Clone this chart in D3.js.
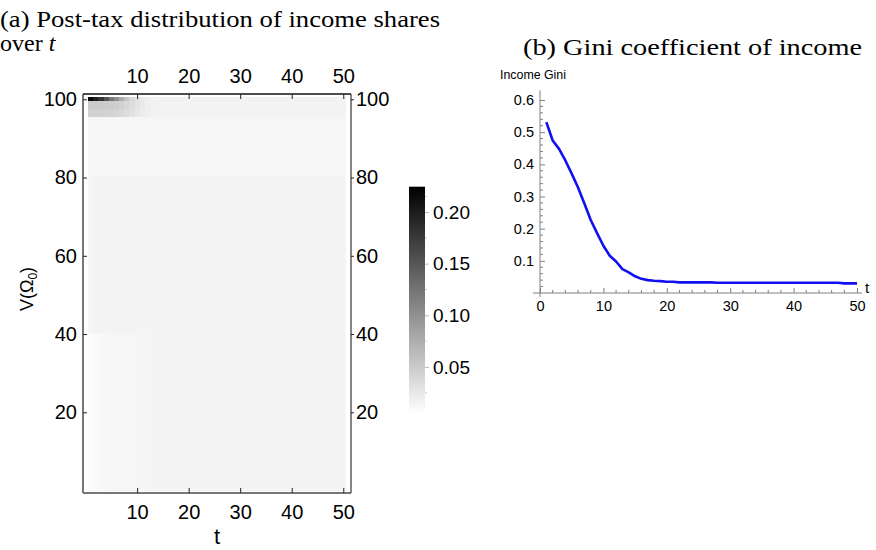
<!DOCTYPE html>
<html><head><meta charset="utf-8">
<script src="https://cdn.jsdelivr.net/npm/d3@7"></script>
<style>body{margin:0;background:#fff}svg{display:block}</style>
</head><body><svg id="c" width="876" height="550"></svg>
<script>
// ---------- DATA ----------
const periods = d3.range(1, 51);
// income share of the top percentile (row 100) by period
const share100 = [0.215,0.198,0.180,0.151,0.121,0.101,0.077,0.055,0.038,0.029,0.022,0.019,0.017,0.016,0.016,0.016,0.016,0.016,0.016,0.016,
  0.016,0.016,0.016,0.016,0.016,0.016,0.016,0.016,0.016,0.016,0.016,0.016,0.016,0.016,0.016,0.016,0.016,0.016,0.016,0.016,
  0.016,0.016,0.016,0.016,0.016,0.016,0.016,0.016,0.016,0.016];
// rows 98-99
const share98to99 = [0.051,0.051,0.050,0.050,0.049,0.047,0.044,0.039,0.034,0.028,0.023,0.019,0.017,0.016,0.015,0.015,0.015,0.015,0.015,0.015,
  0.015,0.015,0.015,0.015,0.015,0.015,0.015,0.015,0.015,0.015,0.015,0.015,0.015,0.015,0.015,0.015,0.015,0.015,0.015,0.015,
  0.015,0.015,0.015,0.015,0.015,0.015,0.015,0.015,0.015,0.015];
// rows 96-97
const share96to97 = [0.045,0.045,0.045,0.044,0.044,0.042,0.039,0.035,0.031,0.026,0.021,0.018,0.016,0.015,0.015,0.015,0.015,0.015,0.015,0.015,
  0.015,0.015,0.015,0.015,0.015,0.015,0.015,0.015,0.015,0.015,0.015,0.015,0.015,0.015,0.015,0.015,0.015,0.015,0.015,0.015,
  0.015,0.015,0.015,0.015,0.015,0.015,0.015,0.015,0.015,0.015];
// rows 81-95
const shareUpper = [0.013,0.013,0.013,0.013,0.013,0.013,0.013,0.013,0.013,0.013,0.013,0.013,0.013,0.013,0.013,0.013,0.013,0.013,0.013,0.013,
  0.013,0.013,0.013,0.013,0.013,0.013,0.013,0.013,0.013,0.013,0.013,0.013,0.013,0.013,0.013,0.013,0.013,0.013,0.013,0.013,
  0.013,0.013,0.013,0.013,0.013,0.013,0.013,0.013,0.013,0.013];
// rows 41-80
const shareMiddle = [0.0135,0.0153,0.0153,0.0153,0.0153,0.0153,0.0153,0.0151,0.015,0.0148,0.0147,0.0146,0.0145,0.0145,0.0145,0.0145,0.0145,0.0145,0.0145,0.0145,
  0.0145,0.0145,0.0145,0.0145,0.0145,0.0145,0.0145,0.0145,0.0145,0.0145,0.0145,0.0145,0.0145,0.0145,0.0145,0.0145,0.0145,0.0145,0.0145,0.0145,
  0.0145,0.0145,0.0145,0.0145,0.0145,0.0145,0.0145,0.0145,0.0145,0.0145];
// rows 1-40
const shareLower = [0.0075,0.009,0.011,0.012,0.0125,0.0125,0.0125,0.0125,0.0125,0.0135,0.014,0.014,0.0145,0.0145,0.0145,0.0145,0.0145,0.0145,0.0145,0.0145,
  0.0145,0.0145,0.0145,0.0145,0.0145,0.0145,0.0145,0.0145,0.0145,0.0145,0.0145,0.0145,0.0145,0.0145,0.0145,0.0145,0.0145,0.0145,0.0145,0.0145,
  0.0145,0.0145,0.0145,0.0145,0.0145,0.0145,0.0145,0.0145,0.0145,0.0145];
// Gini coefficient of income by period
const giniValues = [0.531,0.474,0.448,0.412,0.371,0.328,0.278,0.227,0.186,0.147,0.116,0.098,0.074,0.064,0.052,0.044,0.040,0.038,0.037,0.035,
  0.035,0.033,0.033,0.033,0.033,0.033,0.033,0.032,0.032,0.032,0.032,0.032,0.032,0.032,0.032,0.032,0.032,0.032,0.032,0.032,
  0.032,0.032,0.032,0.032,0.032,0.032,0.032,0.030,0.030,0.030];
const heatXTicks = [10,20,30,40,50];
const heatYTicks = [20,40,60,80,100];
const barTicks = [0.05,0.10,0.15,0.20];
const barMinorTicks = [0.025,0.075,0.125,0.175,0.215];
const giniXTicks = [0,10,20,30,40,50];
const giniYTicks = [0.1,0.2,0.3,0.4,0.5,0.6];
const colorRange = [0.005, 0.2245];

const bands = [
  {from:1, to:40, vals:shareLower},
  {from:41, to:80, vals:shareMiddle},
  {from:81, to:95, vals:shareUpper},
  {from:96, to:97, vals:share96to97},
  {from:98, to:99, vals:share98to99},
  {from:100, to:100, vals:share100}
];

// ---------- DRAW ----------
const svg = d3.select("#c");
const SANS = "Liberation Sans, Arial, sans-serif";
const SERIF = "Liberation Serif, Times New Roman, serif";

// titles
svg.append("text").attr("x",0).attr("y",27).attr("font-family",SERIF).attr("font-size",24)
  .attr("textLength",440).attr("lengthAdjust","spacingAndGlyphs").text("(a) Post-tax distribution of income shares");
const t2 = svg.append("text").attr("x",0).attr("y",51).attr("font-family",SERIF).attr("font-size",24);
t2.append("tspan").text("over ");
t2.append("tspan").attr("font-style","italic").text("t");
svg.append("text").attr("x",523).attr("y",55).attr("font-family",SERIF).attr("font-size",24)
  .attr("textLength",339).attr("lengthAdjust","spacingAndGlyphs").text("(b) Gini coefficient of income");

// heatmap
const L=83, R=351, T=94, B=493;
const x = d3.scaleLinear().domain([-0.5, 51.5]).range([L, R]);
const y = d3.scaleLinear().domain([20, 100]).range([412.3, 99.3]);
const yCell = d3.scaleLinear().domain([0, 100]).range([y(0), y(100.7)]);
const color = d3.scaleLinear().domain(colorRange).range(["#ffffff","#000000"]).clamp(true);

const cells = [];
bands.forEach(b => periods.forEach((t,i) => cells.push({t, from:b.from, to:b.to, v:b.vals[i]})));
svg.append("g").attr("shape-rendering","crispEdges").selectAll("rect").data(cells).join("rect")
  .attr("x", d => x(d.t-0.5)).attr("width", d => x(d.t+0.5)-x(d.t-0.5)+0.5)
  .attr("y", d => yCell(d.to)).attr("height", d => yCell(d.from-1)-yCell(d.to)+0.5)
  .attr("fill", d => color(d.v));

// frame
svg.append("line").attr("x1",L).attr("x2",L).attr("y1",T).attr("y2",B).attr("stroke","#777").attr("stroke-width",2);
svg.append("line").attr("x1",L).attr("x2",R).attr("y1",B).attr("y2",B).attr("stroke","#777").attr("stroke-width",2);
svg.append("line").attr("x1",L).attr("x2",R).attr("y1",T).attr("y2",T).attr("stroke","#111").attr("stroke-width",1.5);
svg.append("line").attr("x1",R).attr("x2",R).attr("y1",T).attr("y2",B).attr("stroke","#333").attr("stroke-width",1.2);

// heatmap ticks via axes
const tickFont = g => g.selectAll("text").attr("font-family",SANS).attr("font-size",20).attr("fill","#000");
const gTop = svg.append("g").attr("transform",`translate(0,${T})`)
  .call(d3.axisTop(x).tickValues(heatXTicks).tickSizeInner(-5).tickSizeOuter(0).tickPadding(11));
const gBot = svg.append("g").attr("transform",`translate(0,${B})`)
  .call(d3.axisBottom(x).tickValues(heatXTicks).tickSizeInner(-5).tickSizeOuter(0).tickPadding(12));
const gLeft = svg.append("g").attr("transform",`translate(${L},0)`)
  .call(d3.axisLeft(y).tickValues(heatYTicks).tickSizeInner(-4).tickSizeOuter(0).tickPadding(6));
const gRight = svg.append("g").attr("transform",`translate(${R},0)`)
  .call(d3.axisRight(y).tickValues(heatYTicks).tickSizeInner(3).tickSizeOuter(0).tickPadding(2));
[gTop,gBot,gLeft,gRight].forEach(g => { g.select(".domain").remove(); g.selectAll("line").attr("stroke","#222"); tickFont(g); });

// axis titles
svg.append("text").attr("x",217).attr("y",544).attr("text-anchor","middle").attr("font-family",SANS).attr("font-size",22).text("t");
const yl = svg.append("text").attr("transform","translate(33,289) rotate(-90)").attr("text-anchor","middle")
  .attr("font-family",SANS).attr("font-size",18);
yl.append("tspan").text("V(Ω");
yl.append("tspan").attr("font-size",12).attr("dy",4).text("0");
yl.append("tspan").attr("dy",-4).text(")");

// colorbar
const cbX = 409, cbW = 16;
const cbY = d3.scaleLinear().domain([0.05,0.20]).range([367,212]);
const defs = svg.append("defs");
const grad = defs.append("linearGradient").attr("id","cbg").attr("x1",0).attr("x2",0).attr("y1",1).attr("y2",0);
grad.append("stop").attr("offset","0%").attr("stop-color",color(colorRange[0]));
grad.append("stop").attr("offset","100%").attr("stop-color",color(colorRange[1]));
svg.append("rect").attr("x",cbX).attr("y",cbY(colorRange[1])).attr("width",cbW)
  .attr("height",cbY(colorRange[0])-cbY(colorRange[1])).attr("fill","url(#cbg)");
const gCb = svg.append("g").attr("transform",`translate(${cbX+cbW},0)`)
  .call(d3.axisRight(cbY).tickValues(barTicks).tickFormat(d3.format(".2f")).tickSizeInner(4).tickSizeOuter(0).tickPadding(4));
gCb.select(".domain").remove(); gCb.selectAll("line").attr("stroke","#bbb"); gCb.selectAll("text").attr("font-family",SANS).attr("font-size",19).attr("fill","#000");
svg.append("g").selectAll("line").data(barMinorTicks).join("line")
  .attr("x1",cbX+cbW).attr("x2",cbX+cbW+2).attr("y1",d=>cbY(d)).attr("y2",d=>cbY(d)).attr("stroke","#ccc");

// ---------- Gini chart ----------
const gx = d3.scaleLinear().domain([0,50]).range([540,857]);
const gy = d3.scaleLinear().domain([0,0.6]).range([293,100]);
const axCol = "#808080";
svg.append("line").attr("x1",533).attr("x2",862).attr("y1",gy(0)).attr("y2",gy(0)).attr("stroke",axCol);
svg.append("line").attr("x1",gx(0)).attr("x2",gx(0)).attr("y1",297).attr("y2",gy(0.63)).attr("stroke",axCol);
const gxA = svg.append("g").attr("transform",`translate(0,${gy(0)})`)
  .call(d3.axisBottom(gx).tickValues(giniXTicks).tickSizeInner(-5).tickSizeOuter(0).tickPadding(8));
svg.append("g").selectAll("line").data(d3.range(2,50,2).filter(v=>v%10)).join("line")
  .attr("x1",d=>gx(d)).attr("x2",d=>gx(d)).attr("y1",gy(0)).attr("y2",gy(0)-3).attr("stroke",axCol);
const gyA = svg.append("g").attr("transform",`translate(${gx(0)},0)`)
  .call(d3.axisLeft(gy).tickValues(giniYTicks).tickFormat(d3.format(".1f")).tickSizeInner(-5).tickSizeOuter(0).tickPadding(6));
svg.append("g").selectAll("line").data(d3.range(0.02,0.62,0.02).filter(v=>Math.abs(v*10-Math.round(v*10))>0.01)).join("line")
  .attr("x1",gx(0)).attr("x2",gx(0)+3).attr("y1",d=>gy(d)).attr("y2",d=>gy(d)).attr("stroke",axCol);
[gxA,gyA].forEach(g=>{ g.select(".domain").remove(); g.selectAll("line").attr("stroke",axCol);
  g.selectAll("text").attr("font-family",SANS).attr("font-size",14.5).attr("fill","#000"); });
gxA.selectAll("text").attr("dy","0.72em");
svg.append("text").attr("x",865).attr("y",293).attr("font-family",SANS).attr("font-size",15).text("t");
svg.append("text").attr("x",500).attr("y",79).attr("font-family",SANS).attr("font-size",12.5)
  .attr("textLength",66).attr("lengthAdjust","spacingAndGlyphs").text("Income Gini");

const line = d3.line().x((d,i)=>gx(periods[i])).y(d=>gy(d));
svg.append("path").datum(giniValues).attr("d",line).attr("fill","none").attr("stroke","#1010f0")
  .attr("stroke-width",2.6).attr("stroke-linejoin","round");
</script></body></html>
